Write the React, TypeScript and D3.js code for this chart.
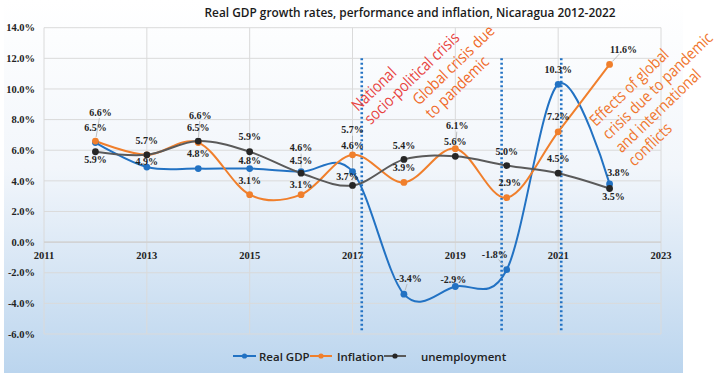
import React from "react";
import * as d3 from "d3";

const years = [2012, 2013, 2014, 2015, 2016, 2017, 2018, 2019, 2020, 2021, 2022];
const realGdp = [6.5, 4.9, 4.8, 4.8, 4.6, 4.6, -3.4, -2.9, -1.8, 10.3, 3.8];
const inflation = [6.6, 5.7, 6.5, 3.1, 3.1, 5.7, 3.9, 6.1, 2.9, 7.2, 11.6];
const unemployment = [5.9, 5.7, 6.6, 5.9, 4.5, 3.7, 5.4, 5.6, 5.0, 4.5, 3.5];

const xTicks = [2011, 2013, 2015, 2017, 2019, 2021, 2023];
const yTicks = [-6, -4, -2, 0, 2, 4, 6, 8, 10, 12, 14];

// dotted markers for the crisis periods
const crisisYears = [2017.18, 2019.9, 2021.06];

// label offsets in px from each point (null = no label)
const gdpLabelPos: ([number, number] | null)[] = [
  [0, -15], [0, -6], [0, -15], [0, -8], [0, -24], [0, -26], [5, -16], [-2, -7], [-12, -15], [0, -15], [9, -11],
];
const inflationLabelPos: ([number, number] | null)[] = [
  [5, -29], [0, -14], [0, -15], [0, -14], [0, -10], [0, -25], [0, -15], [2, -23], [3, -15], [0, -15], [14, -15],
];
const unemploymentLabelPos: ([number, number] | null)[] = [
  [0, 8], null, [2, -26], [0, -15], [0, -13], [-5, -9], [0, -14], [0, -15], [0, -14], [0, -15], [4, 8],
];

const series = [
  { name: "Real GDP", values: realGdp, line: "#2272c3", dot: "#2272c3", labels: gdpLabelPos },
  { name: "Inflation", values: inflation, line: "#f07f2c", dot: "#f07f2c", labels: inflationLabelPos },
  { name: "unemployment", values: unemployment, line: "#5a5a5a", dot: "#262626", labels: unemploymentLabelPos },
];

const annotations = [
  { lines: ["National", "socio-political crisis"], x: 358, y: 112, color: "#e8433f" },
  { lines: ["Global crisis due", "to pandemic"], x: 419, y: 106, color: "#f06a2a" },
  { lines: ["Effects of global", "crisis due to pandemic", "and international", "conflicts"], x: 596, y: 127, color: "#f0762e" },
];

const W = 719;
const H = 374;
const serif = "'Liberation Serif', 'Times New Roman', serif";
const sans = "'Open Sans', 'Noto Sans', sans-serif";

export default function App() {
  const x = d3.scaleLinear().domain([2011, 2023]).range([44, 661]);
  const y = d3.scaleLinear().domain([-6, 14]).range([334, 27.7]);

  const line = d3
    .line<number>()
    .x((_, i) => x(years[i]))
    .y((d) => y(d))
    .curve(d3.curveCardinal.tension(0));

  const fmt = (v: number) => v.toFixed(1) + "%";

  const legend = [
    { x1: 233, x2: 256, tx: 259 },
    { x1: 310, x2: 332, tx: 337 },
    { x1: 384, x2: 406, tx: 421 },
  ];

  return (
    <svg width={W} height={H} style={{ position: "absolute", left: 0, top: 0 }}>
      <defs>
        <linearGradient id="bg" x1="0" y1="0" x2="0" y2="1">
          <stop offset="0" stopColor="#ffffff" />
          <stop offset="0.45" stopColor="#f2f6fb" />
          <stop offset="1" stopColor="#bbd5ee" />
        </linearGradient>
      </defs>
      <rect x={0} y={0} width={W} height={H} fill="#ffffff" />
      <rect x={4} y={0} width={679} height={373} fill="url(#bg)" />

      <text
        x={410}
        y={17}
        textAnchor="middle"
        fontFamily={sans}
        fontWeight={600}
        fontSize={13}
        fill="#1a1a1a"
        textLength={411}
        lengthAdjust="spacingAndGlyphs"
      >
        Real GDP growth rates, performance and inflation, Nicaragua 2012-2022
      </text>

      {/* grid */}
      {yTicks.map((t) => (
        <line key={"gy" + t} x1={x(2011)} x2={x(2023)} y1={y(t)} y2={y(t)} stroke="#dadada" strokeWidth={1} />
      ))}
      {xTicks.map((t) => (
        <line key={"gx" + t} x1={x(t)} x2={x(t)} y1={y(14)} y2={y(-6)} stroke="#dadada" strokeWidth={1} />
      ))}
      <line x1={x(2011)} x2={x(2023)} y1={y(0)} y2={y(0)} stroke="#cfcfcf" strokeWidth={1.2} />

      {/* axis labels */}
      {yTicks.map((t) => (
        <text
          key={"ly" + t}
          x={35}
          y={y(t)}
          dy="0.35em"
          textAnchor="end"
          fontFamily={serif}
          fontWeight="bold"
          fontSize={10.5}
          fill="#222"
        >
          {t.toFixed(1) + "%"}
        </text>
      ))}
      {xTicks.map((t) => (
        <text
          key={"lx" + t}
          x={x(t)}
          y={y(0) + 17}
          textAnchor="middle"
          fontFamily={serif}
          fontWeight="bold"
          fontSize={10.5}
          fill="#222"
        >
          {t}
        </text>
      ))}

      {/* crisis markers */}
      {crisisYears.map((c) => (
        <line
          key={"c" + c}
          x1={x(c)}
          x2={x(c)}
          y1={y(12)}
          y2={y(-5.8)}
          stroke="#2272c3"
          strokeWidth={2.6}
          strokeDasharray="2 2.5"
        />
      ))}

      {/* series lines */}
      {series.map((s) => (
        <path key={s.name} d={line(s.values) || ""} fill="none" stroke={s.line} strokeWidth={2} />
      ))}

      {/* leader lines */}
      {series.map((s) =>
        s.values.map((v, i) => {
          const p = s.labels[i];
          if (!p) return null;
          const dist = Math.hypot(p[0], p[1]);
          if (dist < 15.5) return null;
          const px = x(years[i]);
          const py = y(v);
          const k1 = 4 / dist;
          const k2 = (dist - 6) / dist;
          return (
            <line
              key={s.name + "ld" + i}
              x1={px + p[0] * k1}
              y1={py + p[1] * k1}
              x2={px + p[0] * k2}
              y2={py + p[1] * k2}
              stroke="#b0b0b0"
              strokeWidth={0.8}
            />
          );
        })
      )}

      {/* markers */}
      {series.map((s) =>
        s.values.map((v, i) => (
          <circle key={s.name + "m" + i} cx={x(years[i])} cy={y(v)} r={3.4} fill={s.dot} />
        ))
      )}

      {/* data labels */}
      {series.map((s) =>
        s.values.map((v, i) => {
          const p = s.labels[i];
          if (!p) return null;
          return (
            <text
              key={s.name + "t" + i}
              x={x(years[i]) + p[0]}
              y={y(v) + p[1]}
              dy="0.35em"
              textAnchor="middle"
              fontFamily={serif}
              fontWeight="bold"
              fontSize={10}
              fill="#222"
            >
              {fmt(v)}
            </text>
          );
        })
      )}

      {/* annotations */}
      {annotations.map((a) => (
        <text
          key={a.lines[0]}
          transform={`translate(${a.x},${a.y}) rotate(-44) scale(0.87,1)`}
          fontFamily={sans}
          fontSize={16}
          fill={a.color}
        >
          {a.lines.map((l, j) => (
            <tspan key={j} x={0} dy={j === 0 ? 0 : 18.5}>
              {l}
            </tspan>
          ))}
        </text>
      ))}

      {/* legend */}
      {series.map((s, i) => {
        const L = legend[i];
        return (
          <g key={"lg" + s.name}>
            <line x1={L.x1} x2={L.x2} y1={356} y2={356} stroke={s.line} strokeWidth={2} />
            <circle cx={(L.x1 + L.x2) / 2} cy={356} r={2.6} fill={s.dot} />
            <text x={L.tx} y={360.5} fontFamily={sans} fontWeight={600} fontSize={11.5} fill="#222">
              {s.name}
            </text>
          </g>
        );
      })}
    </svg>
  );
}
